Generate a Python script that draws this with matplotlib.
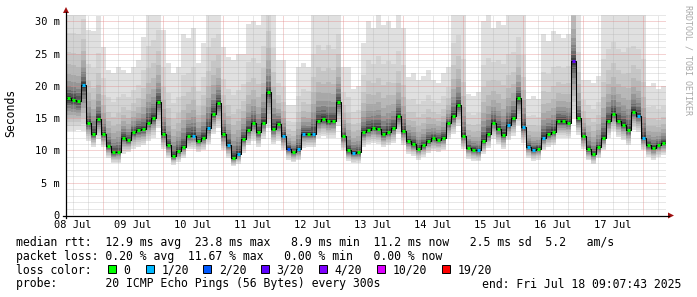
import numpy as np
import pandas as pd
import matplotlib
matplotlib.use('Agg')
from matplotlib import pyplot as plt
import matplotlib.dates as mdates
from matplotlib.patches import Rectangle, Polygon
from matplotlib.ticker import MultipleLocator, FuncFormatter

plt.rcParams['font.family'] = ['DejaVu Sans Mono']

# one value per 2 hour step, starting 08 Jul 09:07:43
start = pd.Timestamp('2025-07-08 09:07:43')
step_h = 2

# median rtt (ms)
median = [18.1, 17.9, 17.6, 20.2, 14.2, 12.6, 14.9, 12.5, 10.7, 9.7,
          9.8, 12.0, 11.6, 12.8, 13.2, 13.3, 14.3, 15.0, 17.5, 12.5,
          10.8, 9.1, 9.9, 10.6, 12.2, 12.3, 11.5, 12.0, 13.5, 15.7,
          17.3, 12.5, 10.9, 8.9, 9.5, 11.8, 13.2, 14.2, 12.8, 14.3,
          19.0, 13.3, 14.1, 12.3, 10.3, 9.8, 10.2, 12.6, 12.6, 12.6,
          14.6, 14.9, 14.5, 14.6, 17.5, 12.2, 10.0, 9.6, 9.7, 12.8,
          13.2, 13.5, 13.3, 12.5, 12.9, 13.5, 15.3, 13.0, 11.5, 11.0,
          10.3, 10.8, 11.5, 11.9, 11.7, 12.0, 14.2, 15.3, 17.0, 12.2,
          10.4, 10.1, 10.0, 11.4, 12.5, 14.3, 13.3, 12.4, 14.0, 15.0,
          18.1, 13.6, 10.6, 10.1, 10.3, 12.0, 12.6, 12.9, 14.5, 14.5,
          14.3, 23.8, 15.0, 12.2, 10.2, 9.4, 10.5, 12.0, 14.6, 15.7,
          14.6, 14.0, 13.1, 16.0, 15.4, 12.0, 10.8, 10.4, 10.8, 11.2]

# bottom of the smoke (ms)
smoke_lo = [13.0, 13.0, 13.2, 13.0, 11.5, 10.5, 11.8, 10.5, 8.8, 8.0,
            8.0, 9.5, 9.8, 10.3, 10.6, 10.8, 11.5, 12.0, 13.5, 10.2,
            8.8, 7.8, 8.2, 8.8, 10.2, 10.3, 9.8, 10.0, 11.0, 12.5,
            13.5, 10.0, 8.8, 7.6, 7.9, 9.6, 10.8, 11.5, 10.6, 11.8,
            13.5, 11.0, 11.5, 10.0, 8.6, 8.2, 8.5, 10.4, 10.5, 10.5,
            12.0, 12.2, 12.0, 12.0, 13.8, 10.0, 8.4, 8.0, 8.1, 10.5,
            11.0, 11.2, 11.0, 10.5, 10.8, 11.2, 12.5, 10.8, 9.5, 9.2,
            8.6, 9.0, 9.6, 9.9, 9.8, 10.0, 11.8, 12.6, 13.8, 10.2,
            8.7, 8.4, 8.3, 9.5, 10.4, 11.8, 11.0, 10.3, 11.6, 12.3,
            14.0, 11.2, 8.9, 8.4, 8.6, 10.0, 10.5, 10.8, 12.0, 12.0,
            11.9, 15.0, 12.4, 10.2, 8.5, 7.9, 8.8, 10.0, 12.0, 13.0,
            12.1, 11.6, 10.9, 13.2, 12.8, 10.0, 9.0, 8.6, 9.0, 9.3]

# top of the smoke (ms), above 31 is cut off
smoke_hi = [34, 34, 34, 36, 28.7, 28.5, 30.8, 26.1, 22.5, 22,
            23, 22.5, 22, 23, 24, 27.6, 33, 34, 35, 28.7,
            23.5, 22, 23, 28, 27.5, 29, 23.5, 26.6, 33, 34,
            34, 26, 24.5, 24, 25, 25, 29.6, 30, 29.5, 33,
            40, 33, 24, 24, 17, 17, 23, 23.5, 23, 32,
            33, 31.5, 33, 32, 34, 23, 23, 19.5, 20, 26.6,
            30, 29, 31, 29.5, 30, 29, 31, 29, 21.4, 22,
            21, 21.5, 22.5, 21, 20.5, 22, 23, 33, 34, 31,
            18.8, 18.5, 19, 30, 31, 29, 30, 29.5, 31, 31,
            33, 31, 18, 18.5, 18, 28, 27, 28.5, 28, 27.5,
            28, 45, 31, 21, 21, 20.5, 21.5, 31, 32, 33,
            32, 31.5, 33, 32, 31.5, 31, 20, 20.5, 19.5, 20]

# lost pings out of 20
loss = [0, 0, 0, 1, 0, 0, 0, 0, 0, 0,
        0, 0, 0, 0, 0, 0, 0, 0, 0, 0,
        0, 0, 0, 0, 0, 1, 0, 0, 1, 0,
        0, 0, 1, 0, 1, 0, 0, 0, 0, 0,
        0, 0, 0, 1, 2, 0, 1, 1, 0, 1,
        0, 0, 0, 0, 0, 0, 0, 1, 0, 0,
        0, 0, 0, 0, 0, 0, 0, 0, 0, 0,
        0, 0, 0, 0, 0, 0, 0, 0, 0, 0,
        0, 0, 1, 0, 0, 0, 0, 0, 1, 0,
        0, 1, 1, 1, 0, 1, 0, 0, 0, 0,
        0, 3, 0, 0, 0, 0, 0, 0, 0, 0,
        0, 0, 0, 0, 1, 1, 0, 0, 0, 0]

loss_keys = [0, 1, 2, 3, 4, 10, 19]
loss_labels = ['0', '1/20', '2/20', '3/20', '4/20', '10/20', '19/20']
loss_colors = ['#00ff00', '#00b8ff', '#0059ff', '#5e00ff', '#7e00ff', '#dd00ff', '#ff0000']

y_ticks = [0, 5, 10, 15, 20, 25, 30]
y_labels = ['0', '5 m', '10 m', '15 m', '20 m', '25 m', '30 m']

legend_lines = [
    'median rtt:  12.9 ms avg  23.8 ms max   8.9 ms min  11.2 ms now   2.5 ms sd  5.2   am/s',
    'packet loss: 0.20 % avg  11.67 % max   0.00 % min   0.00 % now',
]
probe_text = 'probe:       20 ICMP Echo Pings (56 Bytes) every 300s'
end_text = 'end: Fri Jul 18 09:07:43 2025'

W, H = 697, 297
fig = plt.figure(figsize=(W / 100, H / 100), dpi=100)
fig.patch.set_facecolor('white')
ax = fig.add_axes([66 / W, (H - 215) / H, 600 / W, 200 / H])

n = len(median)
times = pd.date_range(start, periods=n + 1, freq=f'{step_h}h')
edges = mdates.date2num(times.to_pydatetime())
med = np.array(median)
lo = np.array(smoke_lo)
hi = np.array(smoke_hi, dtype=float)

# smoke: nested grey bands, darker towards the median
fu = [1.0, 0.64, 0.45, 0.33, 0.24, 0.17, 0.12, 0.08, 0.05, 0.025]
fl = [1.0, 0.85, 0.72, 0.6, 0.5, 0.4, 0.3, 0.22, 0.14, 0.07]
greys = ['#e0e0e0', '#d3d3d3', '#c6c6c6', '#b8b8b8', '#a8a8a8',
         '#969696', '#828282', '#6c6c6c', '#555555', '#3e3e3e']
for k in range(len(fu)):
    up = med + (hi - med) * fu[k]
    dn = med - (med - lo) * fl[k]
    ax.fill_between(edges, np.append(dn, dn[-1]), np.append(up, up[-1]),
                    step='post', color=greys[k], lw=0, zorder=1)

# median: black step line + loss coloured blocks
ax.step(edges, np.append(med, med[-1]), where='post', color='black', lw=0.75, zorder=3)
cmap = dict(zip(loss_keys, loss_colors))
seg_c = [cmap[l] for l in loss]
px = (edges[1] - edges[0]) / 5.0
ax.hlines(med, edges[:-1] + px, edges[1:] - px, colors=seg_c, lw=2.2, zorder=4)

ax.set_xlim(edges[0], edges[0] + 240 / 24)
ax.set_ylim(0, 31)
ax.xaxis_date()
for s in ax.spines.values():
    s.set_visible(False)

ax.xaxis.set_major_locator(mdates.HourLocator(byhour=[0]))
ax.xaxis.set_minor_locator(mdates.HourLocator(byhour=[6, 12, 18]))
ax.xaxis.set_major_formatter(plt.NullFormatter())


def day_label(v, pos):
    d = mdates.num2date(v)
    return d.strftime('%d %b') if d.hour == 12 else ''


ax.xaxis.set_minor_formatter(FuncFormatter(day_label))
ax.set_yticks(y_ticks, y_labels)
ax.yaxis.set_minor_locator(MultipleLocator(1))
ax.tick_params(which='both', length=0, labelsize=7.5)
ax.tick_params(axis='x', which='both', pad=3.6)
ax.tick_params(axis='y', which='both', pad=4.5)

ax.set_axisbelow(False)
ax.grid(which='major', color='#e08080', alpha=0.7, lw=0.72, linestyle=(0, (1, 1)))
ax.grid(which='minor', color='#b0b0b0', alpha=0.6, lw=0.72, linestyle=(0, (1, 1)))

# overlay in pixel coordinates for axes arrows and legend
ov = fig.add_axes([0, 0, 1, 1])
ov.set_xlim(0, W)
ov.set_ylim(H, 0)
ov.axis('off')
ov.patch.set_alpha(0)
ov.plot([63, 669], [215.5, 215.5], color='black', lw=0.9)
ov.plot([66, 66], [218, 12], color='black', lw=0.9)
ov.add_patch(Polygon([[668, 212.5], [674, 215.5], [668, 218.5]], closed=True, color='#a01010', lw=0))
ov.add_patch(Polygon([[63, 13], [66, 7], [69, 13]], closed=True, color='#a01010', lw=0))

fs = 8.3
ov.text(11, 113, 'Seconds', rotation=90, ha='center', va='center', fontsize=fs)
ov.text(688, 60, 'RRDTOOL / TOBI OETIKER', rotation=270, ha='center', va='center',
        fontsize=6, color='#a8a8a8')

ov.text(16, 246, legend_lines[0], va='baseline', ha='left', fontsize=fs)
ov.text(16, 260, legend_lines[1], va='baseline', ha='left', fontsize=fs)
ov.text(16, 273.5, 'loss color:', va='baseline', ha='left', fontsize=fs)
sq_x = [108, 145.7, 203.3, 261, 319, 377.3, 442.3]
for x, lab, c in zip(sq_x, loss_labels, loss_colors):
    ov.add_patch(Rectangle((x, 264.5), 8, 8, facecolor=c, edgecolor='black', lw=0.7))
    ov.text(x + 15.5, 273.5, lab, va='baseline', ha='left', fontsize=fs)
ov.text(16, 287.5, probe_text, va='baseline', ha='left', fontsize=fs)
ov.text(681, 287.5, end_text, va='baseline', ha='right', fontsize=fs)

fig.savefig('out.png', dpi=100)
